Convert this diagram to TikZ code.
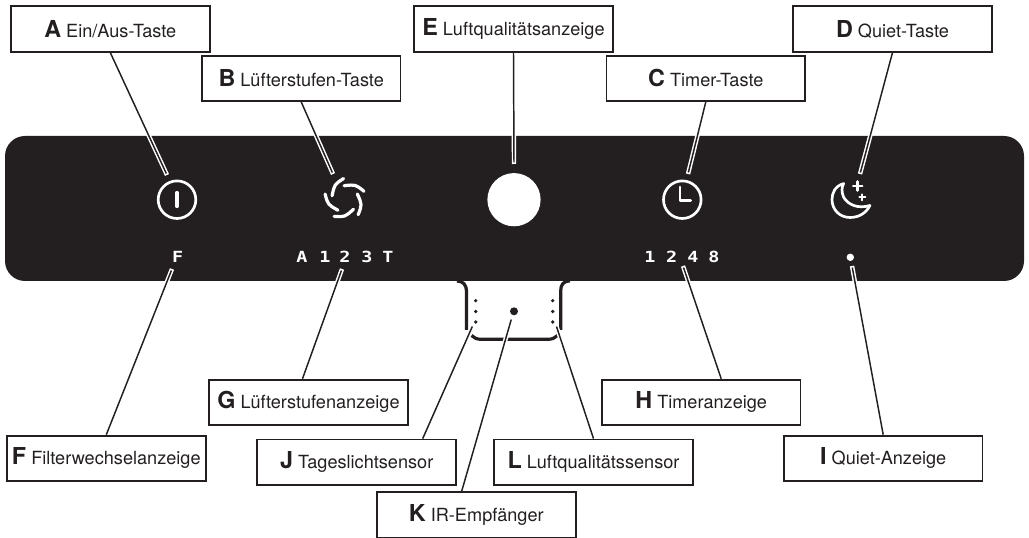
\documentclass[tikz,border=0pt]{standalone}
\usepackage{fontspec}
\setmainfont{TeX Gyre Heros}
\newfontfamily\segfont[FakeStretch=1.2]{DejaVu Sans Mono}
\definecolor{panelblack}{HTML}{231F20}
\newcommand{\boxtext}[2]{{\fontsize{17.5}{18}\selectfont\bfseries #1} #2}
\begin{document}
\begin{tikzpicture}[x=0.75pt, y=-0.75pt, box style/.style={draw=panelblack, text=panelblack, line width=1.4pt, minimum width=149pt, minimum height=34pt, inner sep=0pt, align=center, font=\fontsize{13.6}{15}\selectfont}, connector/.style={draw=panelblack, line width=1.1pt, shorten >=1.2pt, preaction={draw=white, line width=3.3pt, shorten >=0pt, shorten <=12pt}}, icon/.style={draw=white, line width=2pt, line cap=round, line join=round}, seg style/.style={text=white, inner sep=0pt, font=\segfont\bfseries\fontsize{11.5}{12}\selectfont}, contour/.style={draw=panelblack, line width=2.4pt}]
	\useasboundingbox (0,0) rectangle (1029,538);
	\fill[panelblack, rounded corners=15pt] (5,136) rectangle (1024,281);
	\draw[contour] (457,281) .. controls (463,281) and (466.5,285) .. (466.5,291) -- (466.5,330);
	\draw[contour] (471.5,335.5) .. controls (474,338) and (477,339.3) .. (481,339.3) -- (548,339.3) .. controls (552,339.3) and (555,338) .. (557.5,335.5);
	\draw[contour] (560.7,330) -- (560.7,291) .. controls (560.7,285) and (563,281) .. (570,281);
	\foreach \xpos in {475.7,552.7} {
		\foreach \ypos in {300.7,311.5,322} {
			\fill[panelblack] (\xpos,\ypos) circle[radius=1.8];
		}
	}
	\fill[panelblack] (514,311.3) circle[radius=4];

	\draw[icon] (177,199.7) circle[radius=18.8];
	\draw[icon, line width=2.3pt] (177,192.5) -- (177,206.5);
	\foreach \a in {0,72,...,288} {
		\draw[icon, line width=2.4pt, shift={(345,199)}] ({-94-\a}:13.3) .. controls ({-54-\a}:18) .. ({-22-\a}:20.5);
	}
	\fill[white] (514,199.7) circle[radius=26.6];
	\draw[icon] (682.3,199.7) circle[radius=18.8];
	\draw[icon, line width=2.2pt] (680,187) -- (680,200.7) -- (690.7,200.7);
	\draw[icon] (843.7,183.5) .. controls (835,186) and (832,193) .. (832,199.5) .. controls (832,210) and (840,217.5) .. (850,217.5) .. controls (859,217.5) and (866,213) .. (870,205.5) .. controls (858,209) and (848,205) .. (843.5,197) .. controls (841.5,192) and (841.5,187) .. cycle;
	\draw[icon] (853.2,186) -- (862.2,186) (857.7,181.5) -- (857.7,190.5);
	\draw[icon, line width=1.5pt] (859.3,197.3) -- (865.3,197.3) (862.3,194.3) -- (862.3,200.3);
	\fill[white] (850.3,257.3) circle[radius=3.7];

	\node[seg style] (segF) at (177.7,257) {F};
	\foreach \xpos/\glyph in {302/A,325/1,345/2,367/3,388/T} {
		\node[seg style] (fan\glyph) at (\xpos,257) {\glyph};
	}
	\foreach \xpos/\glyph in {650/1,671.7/2,693/4,714/8} {
		\node[seg style] (timer\glyph) at (\xpos,257) {\glyph};
	}

	\node[box style] (A) at (110.3,29) {\boxtext{A}{Ein/Aus-Taste}};
	\node[box style] (B) at (301.2,78.3) {\boxtext{B}{Lüfterstufen-Taste}};
	\node[box style] (E) at (513.5,29) {\boxtext{E}{Luftqualitätsanzeige}};
	\node[box style] (C) at (705.8,78.3) {\boxtext{C}{Timer-Taste}};
	\node[box style] (D) at (892.5,29) {\boxtext{D}{Quiet-Taste}};
	\node[box style] (F) at (106.3,458.3) {\boxtext{F}{Filterwechselanzeige}};
	\node[box style] (G) at (308.5,402.3) {\boxtext{G}{Lüfterstufenanzeige}};
	\node[box style] (H) at (701.2,402.3) {\boxtext{H}{Timeranzeige}};
	\node[box style] (I) at (883.2,458.3) {\boxtext{I}{Quiet-Anzeige}};
	\node[box style] (J) at (356.7,462.2) {\boxtext{J}{Tageslichtsensor}};
	\node[box style] (K) at (476.3,515) {\boxtext{K}{IR-Empfänger}};
	\node[box style] (L) at (593.5,462.2) {\boxtext{L}{Luftqualitätssensor}};

	\coordinate (tipA) at (167,175);
	\coordinate (tipB) at (333,174);
	\coordinate (tipC) at (688,174);
	\coordinate (tipD) at (860,174);
	\coordinate (tipE) at (514,164);
	\coordinate (tipF) at (172,269);
	\coordinate (tipG) at (342,269);
	\coordinate (tipH) at (683,266);
	\coordinate (tipI) at (852,266);
	\coordinate (tipJ) at (473,325);
	\coordinate (tipK) at (511.7,318);
	\coordinate (tipL) at (556,325);

	\draw[connector] (A.south) -- (tipA);
	\draw[connector] (B.south) -- (tipB);
	\draw[connector] (C.south) -- (tipC);
	\draw[connector] (D.south) -- (tipD);
	\draw[connector] (E.south) -- (tipE);
	\draw[connector] (F.north) -- (tipF);
	\draw[connector] ([xshift=-4.5pt]G.north) -- (tipG);
	\draw[connector] ([xshift=15pt]H.north) -- (tipH);
	\draw[connector] (I.north) -- (tipI);
	\draw[connector] ([xshift=49.5pt]J.north) -- (tipJ);
	\draw[connector] ([xshift=-11pt]K.north) -- (tipK);
	\draw[connector] (L.north) -- (tipL);
\end{tikzpicture}
\end{document}
